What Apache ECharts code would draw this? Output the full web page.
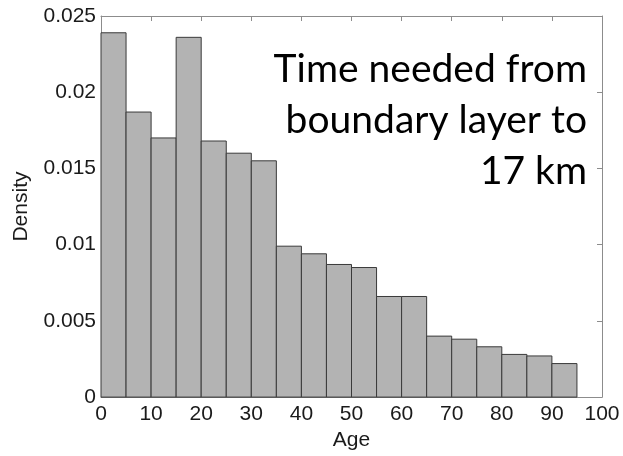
<!DOCTYPE html>
<html>
<head>
<meta charset="utf-8">
<script src="https://cdn.jsdelivr.net/npm/echarts@6/dist/echarts.min.js"></script>
<style>
html,body{margin:0;padding:0;background:#fff;}
#chart{width:623px;height:456px;}
</style>
</head>
<body>
<div id="chart"></div>
<script>
const binStart = [0, 5, 10, 15, 20, 25, 30, 35, 40, 45, 50, 55, 60, 65, 70, 75, 80, 85, 90];
const binEnd   = [5, 10, 15, 20, 25, 30, 35, 40, 45, 50, 55, 60, 65, 70, 75, 80, 85, 90, 95];
const density  = [0.0239, 0.0187, 0.0170, 0.0236, 0.0168, 0.0160, 0.0155, 0.0099, 0.0094, 0.0087, 0.0085, 0.0066, 0.0066, 0.0040, 0.0038, 0.0033, 0.0028, 0.0027, 0.0022];
const xTickLabels = ['0', '10', '20', '30', '40', '50', '60', '70', '80', '90', '100'];
const yTickLabels = ['0', '0.005', '0.01', '0.015', '0.02', '0.025'];
const xAxisTitle = 'Age';
const yAxisTitle = 'Density';
const annotationLines = ['Time needed from', 'boundary layer to', '17 km'];

const chart = echarts.init(document.getElementById('chart'), null, {renderer: 'canvas'});
const axisColor = '#8c8c8c';
const labelFont = {fontFamily: 'Liberation Sans', fontSize: 21, color: '#1a1a1a'};

const boxAxisX = (pos, show) => ({
  type: 'value', position: pos, min: 0, max: 100, interval: 10,
  axisLine: {show: true, onZero: false, lineStyle: {color: axisColor, width: 1}},
  axisTick: {show: true, inside: true, length: 5, lineStyle: {color: axisColor}},
  axisLabel: show ? Object.assign({margin: 7, formatter: v => xTickLabels[Math.round(v / 10)]}, labelFont) : {show: false},
  splitLine: {show: false}
});
const boxAxisY = (pos, show) => ({
  type: 'value', position: pos, min: 0, max: 0.025, interval: 0.005,
  axisLine: {show: true, onZero: false, lineStyle: {color: axisColor, width: 1}},
  axisTick: {show: true, inside: true, length: 5, lineStyle: {color: axisColor}},
  axisLabel: show ? Object.assign({margin: 5, formatter: v => yTickLabels[Math.round(v / 0.005)]}, labelFont) : {show: false},
  splitLine: {show: false}
});

const xBottom = boxAxisX('bottom', true);
xBottom.name = xAxisTitle;
xBottom.nameLocation = 'middle';
xBottom.nameGap = 32;
xBottom.nameTextStyle = {fontFamily: 'Liberation Sans', fontSize: 21, color: '#1a1a1a'};
const yLeft = boxAxisY('left', true);
yLeft.name = yAxisTitle;
yLeft.nameLocation = 'middle';
yLeft.nameGap = 69;
yLeft.nameTextStyle = {fontFamily: 'Liberation Sans', fontSize: 21, color: '#1a1a1a'};

chart.setOption({
  animation: false,
  backgroundColor: '#fff',
  grid: {left: 101, right: 21, top: 16, bottom: 56},
  xAxis: [xBottom, boxAxisX('top', false)],
  yAxis: [yLeft, boxAxisY('right', false)],
  series: [{
    type: 'custom',
    xAxisIndex: 0, yAxisIndex: 0,
    data: binStart.map((s, i) => [s, binEnd[i], density[i]]),
    renderItem: function (params, api) {
      const p0 = api.coord([api.value(0), api.value(2)]);
      const p1 = api.coord([api.value(1), 0]);
      return {
        type: 'rect',
        shape: {x: p0[0], y: p0[1], width: p1[0] - p0[0], height: p1[1] - p0[1]},
        style: {fill: '#b3b3b3', stroke: '#3a3a3a', lineWidth: 1}
      };
    }
  }],
  graphic: annotationLines.map((line, i) => ({
    type: 'text',
    x: 587, y: 69 + i * 51,
    style: {
      text: line,
      fontFamily: 'Lato', fontSize: 39,
      fill: '#000', align: 'right', verticalAlign: 'middle'
    }
  }))
});
</script>
</body>
</html>
